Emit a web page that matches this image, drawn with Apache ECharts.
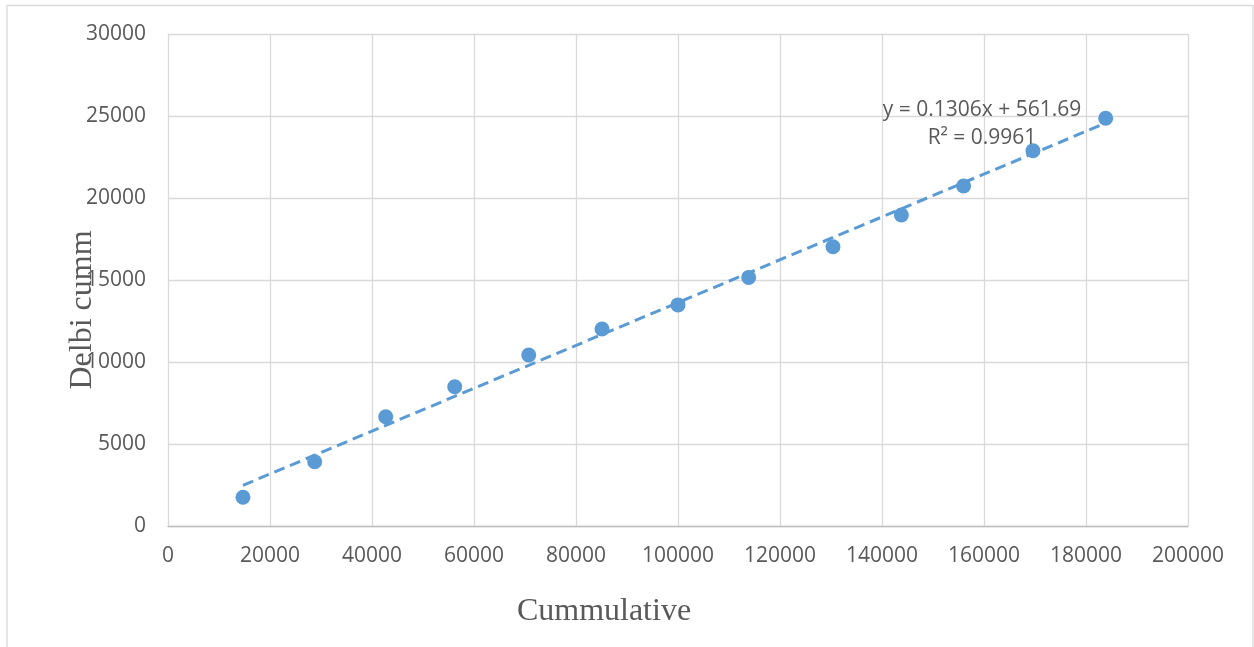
<!DOCTYPE html>
<html>
<head>
<meta charset="utf-8">
<title>Delbi cumm vs Cummulative</title>
<script src="https://cdn.jsdelivr.net/npm/echarts@6/dist/echarts.min.js"></script>
<style>
  html, body { margin: 0; padding: 0; background: #ffffff; }
  #chart { width: 1254px; height: 647px; }
</style>
</head>
<body>
<div id="chart"></div>
<script>
// Cumulative totals (x) against Delbi cumulative (y)
const cummulative = [14700, 28760, 42690, 56220, 70730, 85100, 100000, 113860, 130390, 143800, 156000, 169600, 183860];
const delbiCumm   = [1750, 3920, 6660, 8490, 10430, 12010, 13480, 15160, 17030, 18960, 20730, 22880, 24860];

// Linear trendline coefficients, as printed in the equation label
const trendSlope = 0.1306;
const trendIntercept = 561.69;
const trendR2 = 0.9961;

const xTicks = { min: 0, max: 200000, interval: 20000 };
const yTicks = { min: 0, max: 30000, interval: 5000 };

const points = cummulative.map((x, i) => [x, delbiCumm[i]]);
const xFirst = Math.min(...cummulative);
const xLast = Math.max(...cummulative);
const trendLine = [
  [xFirst, trendSlope * xFirst + trendIntercept],
  [xLast, trendSlope * xLast + trendIntercept]
];

const blue = '#5B9BD5';
const labelGrey = '#595959';
const gridGrey = '#D9D9D9';
const plainNumber = v => String(v);

const chart = echarts.init(document.getElementById('chart'), null, { renderer: 'canvas' });
chart.setOption({
  backgroundColor: '#ffffff',
  animation: false,
  grid: { left: 168, right: 66, top: 34, bottom: 121, containLabel: false },
  xAxis: {
    type: 'value',
    min: xTicks.min, max: xTicks.max, interval: xTicks.interval,
    axisLine: { show: true, lineStyle: { color: '#BFBFBF', width: 1.3 } },
    axisTick: { show: false },
    axisLabel: { color: labelGrey, fontFamily: 'Open Sans', fontSize: 21, margin: 20, formatter: plainNumber },
    splitLine: { show: true, lineStyle: { color: gridGrey, width: 1.3 } }
  },
  yAxis: {
    type: 'value',
    min: yTicks.min, max: yTicks.max, interval: yTicks.interval,
    axisLine: { show: false },
    axisTick: { show: false },
    axisLabel: { color: labelGrey, fontFamily: 'Open Sans', fontSize: 21, margin: 22, formatter: plainNumber },
    splitLine: { show: true, lineStyle: { color: gridGrey, width: 1.3 } }
  },
  series: [
    {
      name: 'Trendline',
      type: 'line',
      data: trendLine,
      symbol: 'none',
      lineStyle: { color: blue, width: 3, type: [11, 6] },
      z: 2
    },
    {
      name: 'Delbi cumm',
      type: 'scatter',
      data: points,
      symbol: 'circle',
      symbolSize: 15,
      itemStyle: { color: blue, opacity: 1 },
      z: 3
    }
  ],
  graphic: [
    {
      type: 'rect',
      shape: { x: 7, y: 5.5, width: 1246, height: 700 },
      style: { fill: null, stroke: gridGrey, lineWidth: 1.3 },
      silent: true, z: -1
    },
    {
      type: 'text',
      x: 982, y: 110,
      style: {
        text: 'y = 0.1306x + 561.69',
        textAlign: 'center', textVerticalAlign: 'middle',
        fill: labelGrey, font: '21px "Open Sans"'
      },
      z: 10
    },
    {
      type: 'text',
      x: 982, y: 138,
      style: {
        text: 'R² = ' + trendR2.toFixed(4),
        textAlign: 'center', textVerticalAlign: 'middle',
        fill: labelGrey, font: '21px "Open Sans"'
      },
      z: 10
    },
    {
      type: 'text',
      x: 604, y: 612,
      style: {
        text: 'Cummulative',
        textAlign: 'center', textVerticalAlign: 'middle',
        fill: labelGrey, font: '32px "Liberation Serif"'
      },
      z: 10
    },
    {
      type: 'text',
      x: 83, y: 310,
      rotation: Math.PI / 2,
      style: {
        text: 'Delbi cumm',
        textAlign: 'center', textVerticalAlign: 'middle',
        fill: labelGrey, font: '32px "Liberation Serif"'
      },
      z: 10
    }
  ]
});
</script>
</body>
</html>
